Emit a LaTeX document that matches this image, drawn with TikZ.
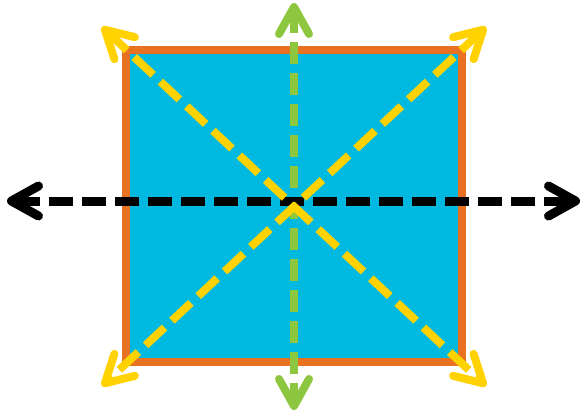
\documentclass[tikz,border=0pt]{standalone}
\usetikzlibrary{arrows.meta}
\definecolor{sqfill}{RGB}{0,185,225}
\definecolor{sqedge}{RGB}{232,114,34}
\definecolor{ylw}{RGB}{255,210,0}
\definecolor{grn}{RGB}{141,198,63}
\begin{document}
\begin{tikzpicture}[x=1pt,y=-1pt,
  barb/.tip={Straight Barb[length=27pt,width=30pt,round]},
  dasharrow/.style={line width=8pt, dash pattern=on 22pt off 9pt, {barb}-{barb}}]
\useasboundingbox (0,0) rectangle (581,413);
\coordinate (tl) at (126,50);
\coordinate (br) at (462,362);
\coordinate (tr) at (462,50);
\coordinate (bl) at (126,362);
\coordinate (gtop) at (294,3);
\coordinate (gbot) at (294,410);
\coordinate (kl) at (7,201);
\coordinate (kr) at (580,201);
\coordinate (ytl) at (102,27);
\coordinate (ybr) at (486,386);
\coordinate (ytr) at (486,27);
\coordinate (ybl) at (102,386);
\draw[fill=sqfill, draw=sqedge, line width=8pt] (tl) rectangle (br);
\draw[dasharrow, grn] (gtop) -- (gbot);
\draw[dasharrow, black, line width=9pt, dash pattern=on 24pt off 9pt] (kl) -- (kr);
\draw[dasharrow, ylw, dash pattern=on 26pt off 10pt] (ytl) -- (ybr);
\draw[dasharrow, ylw, dash pattern=on 26pt off 10pt] (ytr) -- (ybl);
\end{tikzpicture}
\end{document}
